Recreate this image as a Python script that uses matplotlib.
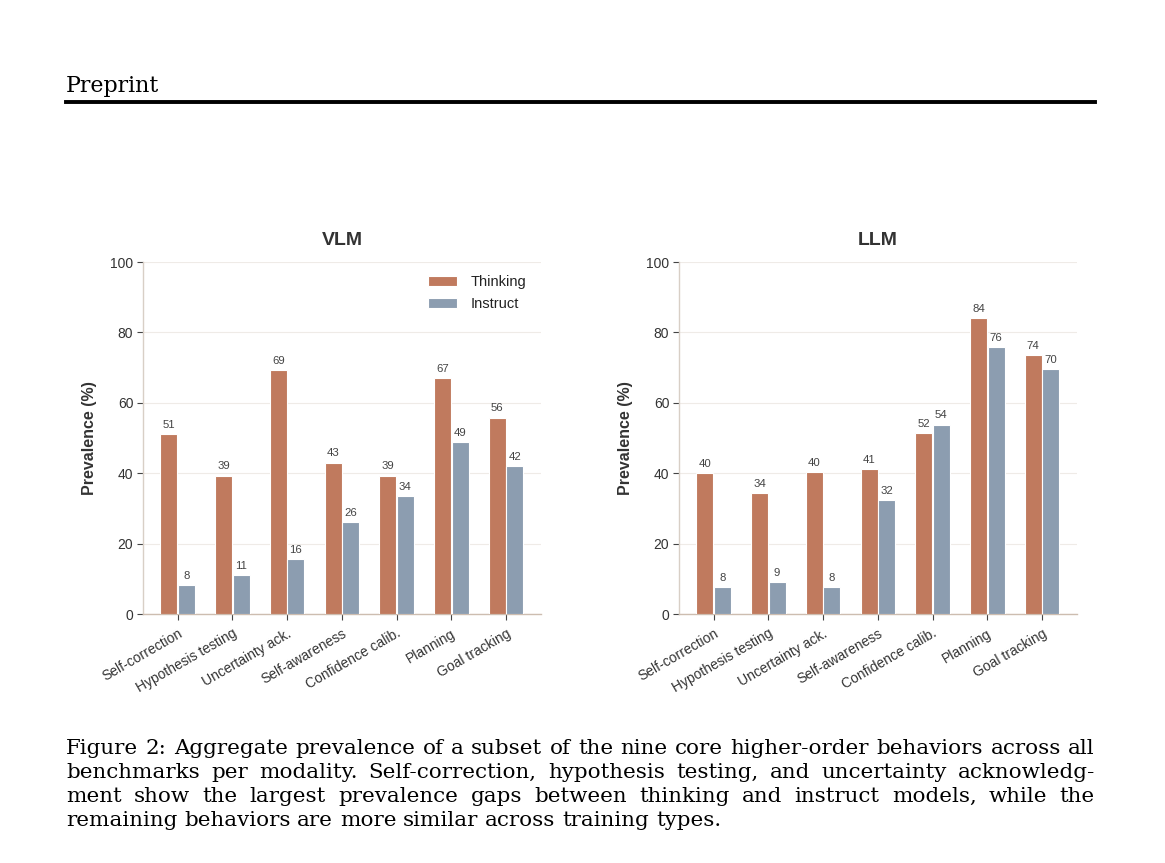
import numpy as np
import matplotlib
matplotlib.use("Agg")
import matplotlib.pyplot as plt

# data
behaviors = ["Self-correction", "Hypothesis testing", "Uncertainty ack.",
             "Self-awareness", "Confidence calib.", "Planning", "Goal tracking"]
vlm_thinking = [51.2, 39.3, 69.3, 43.0, 39.3, 67.1, 55.8]
vlm_instruct = [8.2, 11.1, 15.6, 26.1, 33.6, 48.8, 42.0]
llm_thinking = [40.1, 34.3, 40.4, 41.1, 51.5, 84.1, 73.6]
llm_instruct = [7.7, 9.1, 7.6, 32.3, 53.8, 75.9, 69.6]
panels = [("VLM", vlm_thinking, vlm_instruct), ("LLM", llm_thinking, llm_instruct)]

caption_lines = [
    "Figure 2: Aggregate prevalence of a subset of the nine core higher-order behaviors across all",
    "benchmarks per modality. Self-correction, hypothesis testing, and uncertainty acknowledg-",
    "ment show the largest prevalence gaps between thinking and instruct models, while the",
    "remaining behaviors are more similar across training types.",
]

c_think = "#c07a5e"
c_inst = "#8c9db0"
spine_c = "#d8cfc6"
text_c = "#333333"

W, H = 1165, 863
fig = plt.figure(figsize=(W / 100, H / 100), dpi=100)
plt.rcParams["font.family"] = ["Liberation Sans", "DejaVu Sans"]

x = np.arange(len(behaviors))
bw = 0.31
lefts = [143, 679]
for (name, think, inst), lpx in zip(panels, lefts):
    ax = fig.add_axes([lpx / W, 1 - 614 / H, 398 / W, 352 / H])
    b1 = ax.bar(x - 0.16, think, bw, color=c_think, edgecolor="white", linewidth=0.8,
                label="Thinking", zorder=3)
    b2 = ax.bar(x + 0.16, inst, bw, color=c_inst, edgecolor="white", linewidth=0.8,
                label="Instruct", zorder=3)
    for bars in (b1, b2):
        ax.bar_label(bars, labels=[f"{v:.0f}" for v in bars.datavalues],
                     padding=3, fontsize=8.2, color="#444444")
    ax.set_xlim(-0.634, 6.64)
    ax.set_ylim(0, 100)
    ax.set_yticks([0, 20, 40, 60, 80, 100])
    ax.set_xticks(x)
    ax.set_xticklabels(behaviors, rotation=30, ha="right", rotation_mode="anchor",
                       fontsize=10, color=text_c)
    ax.tick_params(axis="y", labelsize=10, labelcolor=text_c, length=4, width=0.8,
                   color="#444444", pad=3)
    ax.tick_params(axis="x", length=4, width=0.8, color="#444444", pad=5)
    ax.grid(axis="y", color="#efebe7", linewidth=0.8, zorder=0)
    ax.set_axisbelow(True)
    for s in ("top", "right"):
        ax.spines[s].set_visible(False)
    ax.spines["left"].set_color(spine_c)
    ax.spines["bottom"].set_color("#cdbdb0")
    ax.spines["left"].set_linewidth(1.0)
    ax.spines["bottom"].set_linewidth(1.0)
    ax.set_ylabel("Prevalence (%)", fontsize=11.5, fontweight="bold", color=text_c)
    ax.yaxis.set_label_coords(-0.116, 0.5)
    ax.set_title(name, fontsize=14, fontweight="bold", color=text_c, pad=12)
    if name == "VLM":
        ax.legend(loc="upper right", frameon=False, fontsize=10.5, handlelength=2.0,
                  handleheight=0.75, handletextpad=0.9, labelspacing=0.55,
                  bbox_to_anchor=(0.995, 1.0), labelcolor="#222222")

renderer = fig.canvas.get_renderer()
serif = "DejaVu Serif"


def text_width(s, size):
    t = fig.text(0, 0, s, fontsize=size, family=serif)
    w = t.get_window_extent(renderer).width
    t.remove()
    return w


# page header
hsize = 15 * 94 / text_width("Preprint", 15)
fig.text(66 / W, 1 - 92 / H, "Preprint", fontsize=hsize, family=serif,
         color="black", va="baseline")
fig.add_artist(plt.Line2D([66 / W, 1095 / W], [1 - 102 / H, 1 - 102 / H],
                          color="black", linewidth=2.8))

# caption, justified line by line
cap_size = 14 * 1020 / text_width(caption_lines[0], 14)
left_px, right_px = 66, 1095
space_px = text_width("a b", cap_size) - text_width("ab", cap_size)
for i, line in enumerate(caption_lines):
    y = 1 - (754 + 24 * i) / H
    words = line.split(" ")
    widths = [text_width(wd, cap_size) for wd in words]
    if i < len(caption_lines) - 1:
        gap = (right_px - left_px - sum(widths)) / (len(words) - 1)
    else:
        gap = space_px
    xp = left_px
    for wd, w in zip(words, widths):
        fig.text(xp / W, y, wd, fontsize=cap_size, family=serif, color="black",
                 va="baseline")
        xp += w + gap

fig.savefig("out.png", dpi=100)
